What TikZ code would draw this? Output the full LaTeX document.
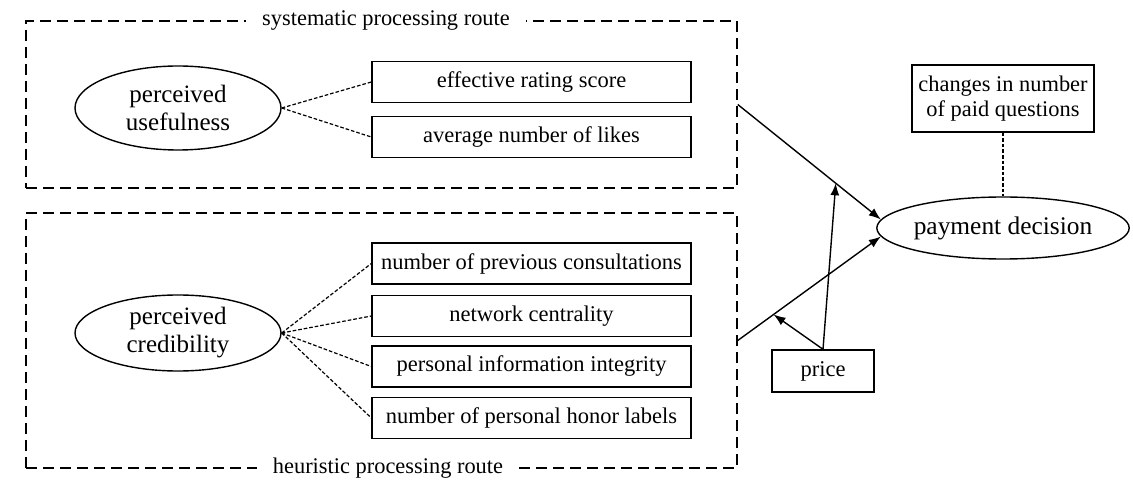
\documentclass[tikz,border=0pt]{standalone}
\usepackage{fontspec}
\setmainfont{Liberation Serif}
\usetikzlibrary{calc,arrows.meta,shapes.geometric}
\tikzset{
  routebox/.style={draw, line width=0.75pt, dash pattern=on 5.5pt off 3pt, inner sep=0pt},
  routelabel/.style={fill=white, inner ysep=3pt, inner xsep=8pt, font=\fontsize{11.2}{13}\selectfont},
  itembox/.style={draw, line width=0.7pt, minimum width=159.5pt, minimum height=20.5pt, inner sep=0pt, font=\fontsize{11.25}{13}\selectfont},
  construct/.style={draw, ellipse, line width=0.7pt, inner sep=0pt, align=center, font=\fontsize{12.5}{14}\selectfont},
  link/.style={line width=0.6pt, dash pattern=on 1.8pt off 1pt},
  effect/.style={line width=0.7pt, -{Latex[length=6pt,width=4.5pt]}}
}
\begin{document}
\begin{tikzpicture}[x=0.5pt,y=-0.5pt]
\path[use as bounding box] (0,0) rectangle (1133,491);
% route boxes
\node[routebox, minimum width=355.5pt, minimum height=83.5pt] (sys) at (381.5,104.5) {};
\node[routebox, minimum width=355.5pt, minimum height=127.5pt] (heu) at (381.5,340.5) {};
\node[routelabel] (syslab) at (386,21) {systematic processing route};
\node[routelabel] (heulab) at (388,468) {heuristic processing route};
% constructs
\node[construct, minimum width=103pt, minimum height=42pt] (pu) at (178,108) {perceived\\usefulness};
\node[construct, minimum width=103pt, minimum height=38pt] (pc) at (178,333) {perceived\\credibility};
% indicators
\node[itembox] (ers) at (531.5,82) {effective rating score};
\node[itembox] (anl) at (531.5,137) {average number of likes};
\node[itembox] (npc) at (531.5,263.5) {number of previous consultations};
\node[itembox] (nc) at (531.5,316) {network centrality};
\node[itembox] (pii) at (531.5,366.5) {personal information integrity};
\node[itembox] (nph) at (531.5,418) {number of personal honor labels};
\draw[link] (pu.east) -- (ers.west);
\draw[link] (pu.east) -- (anl.west);
\draw[link] (pc.east) -- (npc.west);
\draw[link] (pc.east) -- (nc.west);
\draw[link] (pc.east) -- (pii.west);
\draw[link] (pc.east) -- (nph.west);
% outcome
\node[draw, ellipse, line width=0.7pt, inner sep=0pt, minimum width=123pt, minimum height=31pt, font=\fontsize{12.7}{14}\selectfont] (pd) at (1003,228) {payment decision};
\node[draw, line width=0.7pt, inner sep=0pt, minimum width=91pt, minimum height=33.5pt, align=center, font=\fontsize{11.2}{12.5}\selectfont] (chg) at (1003,98.5) {changes in number\\of paid questions};
\draw[link] (chg.south) -- (pd.north);
\node[draw, line width=0.7pt, inner sep=0pt, minimum width=51pt, minimum height=21pt, font=\fontsize{11.25}{13}\selectfont] (pr) at (823,371) {price};
% effects
\draw[effect] (sys.east) -- (pd.176);
\draw[effect] (heu.east) -- (pd.184);
\coordinate (m1) at ($(sys.east)!0.685!(pd.176)$);
\coordinate (m2) at ($(heu.east)!0.25!(pd.184)$);
\draw[effect] (pr.north) -- (m1);
\draw[effect] (pr.north) -- (m2);
\end{tikzpicture}
\end{document}
